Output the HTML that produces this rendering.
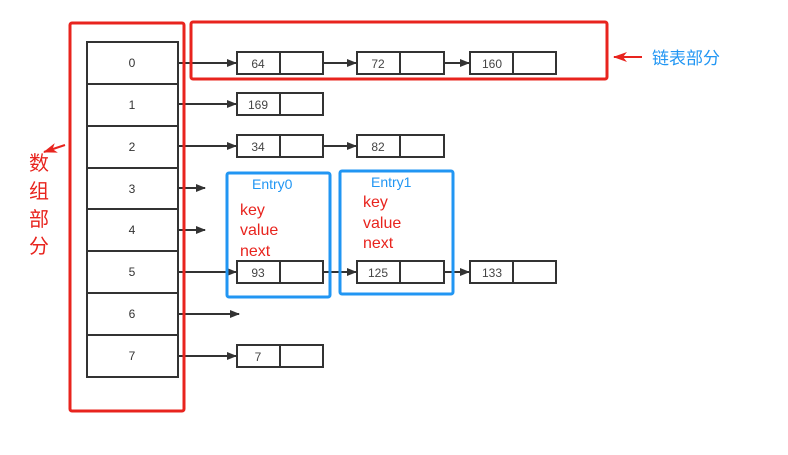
<!DOCTYPE html>
<html><head><meta charset="utf-8"><style>
body{margin:0;background:#fff;}
text{font-family:"Liberation Sans","Noto Sans CJK SC",sans-serif;}
</style></head><body>
<svg width="788" height="450" xmlns="http://www.w3.org/2000/svg">
<defs>
<marker id="a" markerWidth="10" markerHeight="8" refX="9" refY="4" orient="auto" markerUnits="userSpaceOnUse"><path d="M0,0 L10,4 L0,8 Z" fill="#333"/></marker>
<marker id="r" markerWidth="14" markerHeight="10" refX="13" refY="5" orient="auto" markerUnits="userSpaceOnUse"><path d="M0,0 L14,5 L0,10 L4,5 Z" fill="#e8241e"/></marker>
</defs>
<g stroke="#333" stroke-width="2" fill="none">
<rect x="87" y="42" width="91" height="335"/>
<line x1="87" y1="84" x2="178" y2="84"/><line x1="87" y1="126" x2="178" y2="126"/>
<line x1="87" y1="168" x2="178" y2="168"/><line x1="87" y1="209" x2="178" y2="209"/>
<line x1="87" y1="251" x2="178" y2="251"/><line x1="87" y1="293" x2="178" y2="293"/>
<line x1="87" y1="335" x2="178" y2="335"/>
</g>
<g font-size="12" fill="#333" text-anchor="middle">
<text x="132" y="67">0</text><text x="132" y="109">1</text><text x="132" y="151">2</text><text x="132" y="193">3</text>
<text x="132" y="234">4</text><text x="132" y="276">5</text><text x="132" y="318">6</text><text x="132" y="360">7</text>
</g>
<g stroke="#333" stroke-width="2" marker-end="url(#a)">
<line x1="178" y1="63" x2="236" y2="63"/><line x1="178" y1="104" x2="236" y2="104"/>
<line x1="178" y1="146" x2="236" y2="146"/><line x1="178" y1="188" x2="205" y2="188"/>
<line x1="178" y1="230" x2="205" y2="230"/><line x1="178" y1="272" x2="236" y2="272"/>
<line x1="178" y1="314" x2="239" y2="314"/><line x1="178" y1="356" x2="236" y2="356"/>
<line x1="323" y1="63" x2="356" y2="63"/><line x1="444" y1="63" x2="469" y2="63"/>
<line x1="323" y1="146" x2="356" y2="146"/>
<line x1="323" y1="272" x2="356" y2="272"/><line x1="444" y1="272" x2="469" y2="272"/>
</g>
<g stroke="#333" stroke-width="2" fill="none">
<rect x="237" y="52" width="86" height="22"/><line x1="280" y1="52" x2="280" y2="74"/>
<rect x="357" y="52" width="87" height="22"/><line x1="400" y1="52" x2="400" y2="74"/>
<rect x="470" y="52" width="86" height="22"/><line x1="513" y1="52" x2="513" y2="74"/>
<rect x="237" y="93" width="86" height="22"/><line x1="280" y1="93" x2="280" y2="115"/>
<rect x="237" y="135" width="86" height="22"/><line x1="280" y1="135" x2="280" y2="157"/>
<rect x="357" y="135" width="87" height="22"/><line x1="400" y1="135" x2="400" y2="157"/>
<rect x="237" y="261" width="86" height="22"/><line x1="280" y1="261" x2="280" y2="283"/>
<rect x="357" y="261" width="87" height="22"/><line x1="400" y1="261" x2="400" y2="283"/>
<rect x="470" y="261" width="86" height="22"/><line x1="513" y1="261" x2="513" y2="283"/>
<rect x="237" y="345" width="86" height="22"/><line x1="280" y1="345" x2="280" y2="367"/>
</g>
<g font-size="12" fill="#444" text-anchor="middle">
<text x="258" y="68">64</text><text x="378" y="68">72</text><text x="492" y="68">160</text>
<text x="258" y="109">169</text><text x="258" y="151">34</text><text x="378" y="151">82</text>
<text x="258" y="277">93</text><text x="378" y="277">125</text><text x="492" y="277">133</text>
<text x="258" y="361">7</text>
</g>
<g stroke="#e8241e" stroke-width="3" fill="none">
<rect x="70" y="23" width="114" height="388" rx="2"/>
<rect x="191" y="22" width="416" height="57" rx="2"/>
</g>
<g stroke="#2196f3" stroke-width="3" fill="none">
<rect x="227" y="173" width="103" height="124" rx="2"/>
<rect x="340" y="171" width="113" height="123" rx="2"/>
</g>
<g font-size="14" fill="#2196f3"><text x="252" y="189">Entry0</text><text x="371" y="187">Entry1</text></g>
<g font-size="16" fill="#e8241e">
<text x="240" y="215">key</text><text x="240" y="235">value</text><text x="240" y="256">next</text>
<text x="363" y="207">key</text><text x="363" y="228">value</text><text x="363" y="248">next</text>
</g>
<line x1="642" y1="57" x2="614" y2="57" stroke="#e8241e" stroke-width="2" marker-end="url(#r)"/>
<text x="652" y="64" font-size="17" fill="#2196f3">链表部分</text>
<line x1="65" y1="145" x2="44" y2="152" stroke="#e8241e" stroke-width="2" marker-end="url(#r)"/>
<g font-size="20" fill="#e8241e" text-anchor="middle">
<text x="39" y="170">数</text><text x="39" y="198">组</text><text x="39" y="226">部</text><text x="39" y="253">分</text>
</g>
</svg>
</body></html>
